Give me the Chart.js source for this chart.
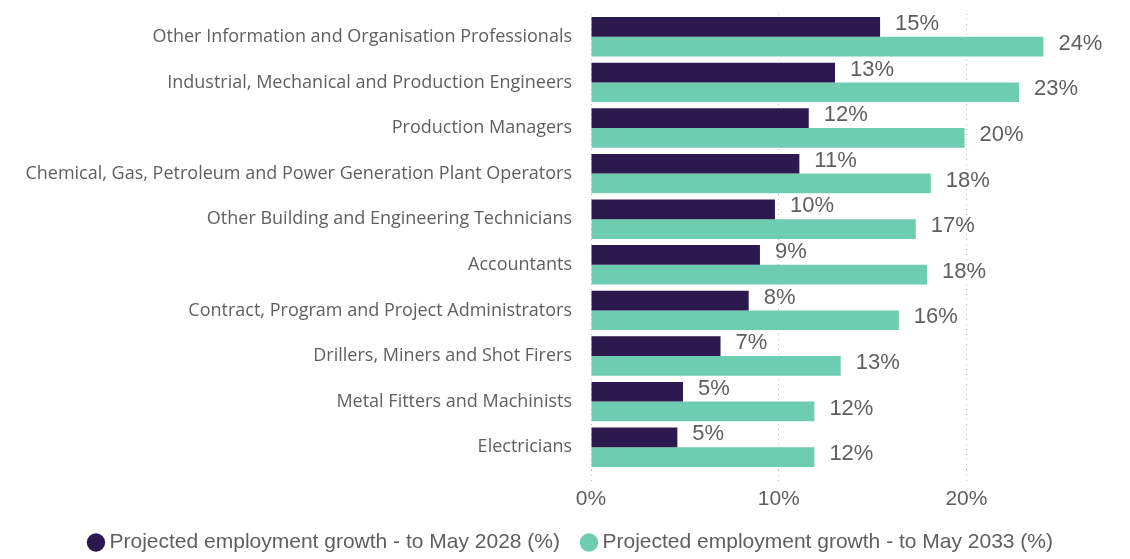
<!DOCTYPE html>
<html>
<head>
<meta charset="utf-8">
<script src="https://cdn.jsdelivr.net/npm/chart.js@4.4.1/dist/chart.umd.min.js"></script>
<style>
    html, body { margin: 0; padding: 0; background: #fff; }
    #wrap { width: 1130px; height: 559px; position: relative; }
</style>
</head>
<body>
<div id="wrap"><canvas id="chart"></canvas></div>
<script>
// Occupations, top to bottom
const occupations = [
    'Other Information and Organisation Professionals',
    'Industrial, Mechanical and Production Engineers',
    'Production Managers',
    'Chemical, Gas, Petroleum and Power Generation Plant Operators',
    'Other Building and Engineering Technicians',
    'Accountants',
    'Contract, Program and Project Administrators',
    'Drillers, Miners and Shot Firers',
    'Metal Fitters and Machinists',
    'Electricians'
];

// Projected employment growth (%)
const growth2028 = [15.4, 13.0, 11.6, 11.1, 9.8, 9.0, 8.4, 6.9, 4.9, 4.6];
const growth2033 = [24.1, 22.8, 19.9, 18.1, 17.3, 17.9, 16.4, 13.3, 11.9, 11.9];

const seriesLabels = [
    'Projected employment growth - to May 2028 (%)',
    'Projected employment growth - to May 2033 (%)'
];
const xTicks = [0, 10, 20];

const DARK = '#2c1a4e';
const GREEN = '#6ecdb0';
const TEXT = '#5f5f5f';
const GRID = '#bdbdbd';

// --- value labels at the bar ends ---
const barLabels = {
    id: 'barLabels',
    afterDatasetsDraw(chart) {
        const ctx = chart.ctx;
        ctx.save();
        ctx.font = '22px "Liberation Sans", Arial, sans-serif';
        ctx.fillStyle = TEXT;
        ctx.textAlign = 'left';
        ctx.textBaseline = 'middle';
        chart.data.datasets.forEach((ds, i) => {
            const meta = chart.getDatasetMeta(i);
            meta.data.forEach((bar, j) => {
                ctx.fillText(Math.round(ds.data[j]) + '%', bar.x + 15, bar.y - 3);
            });
        });
        ctx.restore();
    }
};

const ctx = document.getElementById('chart').getContext('2d');
new Chart(ctx, {
    type: 'bar',
    data: {
        labels: occupations,
        datasets: [
            { label: seriesLabels[0], data: growth2028, backgroundColor: DARK },
            { label: seriesLabels[1], data: growth2033, backgroundColor: GREEN }
        ]
    },
    options: {
        indexAxis: 'y',
        responsive: true,
        maintainAspectRatio: false,
        animation: false,
        layout: { padding: { top: 14, right: 4, left: 20, bottom: -4 } },
        datasets: { bar: { categoryPercentage: 0.865, barPercentage: 1 } },
        scales: {
            x: {
                min: 0,
                max: 28.5,
                afterBuildTicks: (scale) => { scale.ticks = xTicks.map(v => ({ value: v })); },
                afterFit: (scale) => { scale.height = 36; },
                grid: {
                    color: GRID,
                    lineWidth: 1,
                    tickBorderDash: [1, 4],
                    tickLength: 13,
                    tickColor: GRID
                },
                border: { display: false, dash: [1, 4] },
                ticks: {
                    // mirrored + negative padding: labels sit below the short axis box without clipping
                    mirror: true,
                    padding: -42,
                    color: TEXT,
                    font: { family: '"Liberation Sans", Arial, sans-serif', size: 21 },
                    callback: (v) => v + '%'
                }
            },
            y: {
                afterFit: (scale) => { scale.width = 571; },
                grid: { display: false, tickLength: 19 },
                border: { display: false },
                ticks: {
                    padding: 0,
                    color: TEXT,
                    font: { family: '"Open Sans", Roboto, sans-serif', size: 18 }
                }
            }
        },
        plugins: {
            legend: {
                position: 'bottom',
                labels: {
                    usePointStyle: true,
                    pointStyle: 'circle',
                    boxWidth: 6,
                    boxHeight: 13,
                    padding: 26,
                    color: TEXT,
                    font: { family: '"Liberation Sans", Arial, sans-serif', size: 21 }
                }
            },
            tooltip: { enabled: false }
        }
    },
    plugins: [barLabels]
});
</script>
</body>
</html>
